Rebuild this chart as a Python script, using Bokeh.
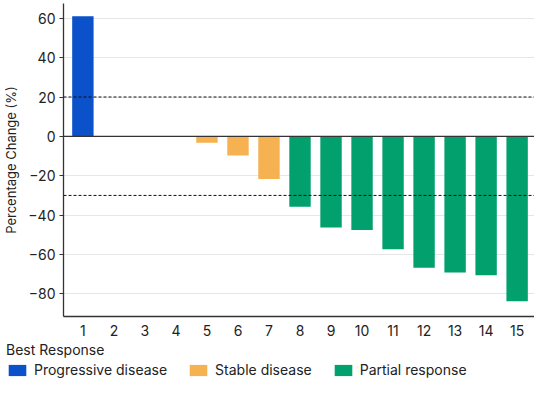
from bokeh.plotting import figure
from bokeh.layouts import column
from bokeh.models import (ColumnDataSource, Span, Legend, LegendItem, FixedTicker, Range1d,
                          CustomJSTickFormatter, Column)
from bokeh.embed import file_html
from bokeh.resources import INLINE

# ---- data ----
patients = list(range(1, 16))
pct_change = [61, 0, 0, 0, -3.3, -9.7, -21.7, -35.8, -46.3, -47.5, -57.3, -66.7, -69.2, -70.5, -83.8]
best_response = ["Progressive disease", "", "", "",
                 "Stable disease", "Stable disease", "Stable disease",
                 "Partial response", "Partial response", "Partial response", "Partial response",
                 "Partial response", "Partial response", "Partial response", "Partial response"]
categories = ["Progressive disease", "Stable disease", "Partial response"]
cat_colors = ["#0B51C9", "#F6B151", "#02A06D"]
y_ticks = [-80, -60, -40, -20, 0, 20, 40, 60]
thresholds = [20, -30]

FONT = "Inter"
TXT = "#222222"

p = figure(width=534, height=342, output_backend="svg", toolbar_location=None,
           x_range=Range1d(0.375, 15.56), y_range=Range1d(-91.5, 67.5),
           min_border_left=54, min_border_right=0, min_border_top=3, min_border_bottom=26)
p.outline_line_color = None

sources = []
for cat, col in zip(categories, cat_colors):
    xs = [x for x, r in zip(patients, best_response) if r == cat]
    ys = [v for v, r in zip(pct_change, best_response) if r == cat]
    src = ColumnDataSource(dict(x=xs, top=ys))
    sources.append(src)
    p.vbar(x="x", top="top", bottom=0, width=0.69, source=src,
           fill_color=col, line_color=None)

for t in thresholds:
    p.add_layout(Span(location=t, dimension="width", line_color="#111111",
                      line_width=1, line_dash="3 2"))
p.add_layout(Span(location=0, dimension="width", line_color="#333333", line_width=1.2))

# axes
p.xaxis.ticker = FixedTicker(ticks=patients)
p.yaxis.ticker = FixedTicker(ticks=y_ticks)
p.yaxis.formatter = CustomJSTickFormatter(
    code="return tick < 0 ? '\\u2212' + Math.abs(tick) : String(tick);")
p.xgrid.grid_line_color = None
p.ygrid.grid_line_color = "#E6E6E6"
p.ygrid.grid_line_width = 1

for ax in (p.xaxis[0], p.yaxis[0]):
    ax.axis_line_color = "#333333"
    ax.axis_line_width = 1.3
    ax.major_tick_line_color = "#333333"
    ax.minor_tick_line_color = None
    ax.major_label_text_font = FONT
    ax.major_label_text_font_size = "14px"
    ax.major_label_text_color = TXT
    ax.major_tick_in = 0

p.xaxis.major_tick_out = 0
p.xaxis.major_label_standoff = 8
p.yaxis.major_tick_out = 4
p.yaxis.major_label_standoff = 4
p.yaxis.axis_label = "Percentage Change (%)"
p.yaxis.axis_label_text_font = FONT
p.yaxis.axis_label_text_font_size = "13px"
p.yaxis.axis_label_text_font_style = "normal"
p.yaxis.axis_label_text_color = TXT
p.yaxis.axis_label_standoff = 6

# ---- legend panel below the chart ----
lf = figure(width=534, height=36, output_backend="svg", toolbar_location=None,
            x_axis_type=None, y_axis_type=None, x_range=Range1d(0, 1), y_range=Range1d(0, 1),
            min_border_left=0, min_border_right=0, min_border_top=0, min_border_bottom=0)
lf.outline_line_color = None
lf.xgrid.grid_line_color = None
lf.ygrid.grid_line_color = None
items = []
for cat, col, src in zip(categories, cat_colors, sources):
    r = lf.vbar(x="x", top="top", bottom=0, width=0.69, source=src,
                fill_color=col, line_color=None, visible=False)
    items.append(LegendItem(label=cat, renderers=[r]))

legend = Legend(items=items, orientation="horizontal", title="Best Response",
                location=(6, 0), border_line_color=None, background_fill_alpha=0,
                inactive_fill_alpha=0,
                padding=0, margin=0, spacing=20, label_standoff=6,
                glyph_width=22, glyph_height=14, label_height=14,
                title_standoff=3,
                label_text_font=FONT, label_text_font_size="14px", label_text_color=TXT,
                title_text_font=FONT, title_text_font_size="14px", title_text_color=TXT,
                title_text_font_style="normal")
lf.add_layout(legend, "center")

layout = column(p, Column(children=[lf]), spacing=0)
open("out.html", "w").write(file_html(layout, INLINE))
